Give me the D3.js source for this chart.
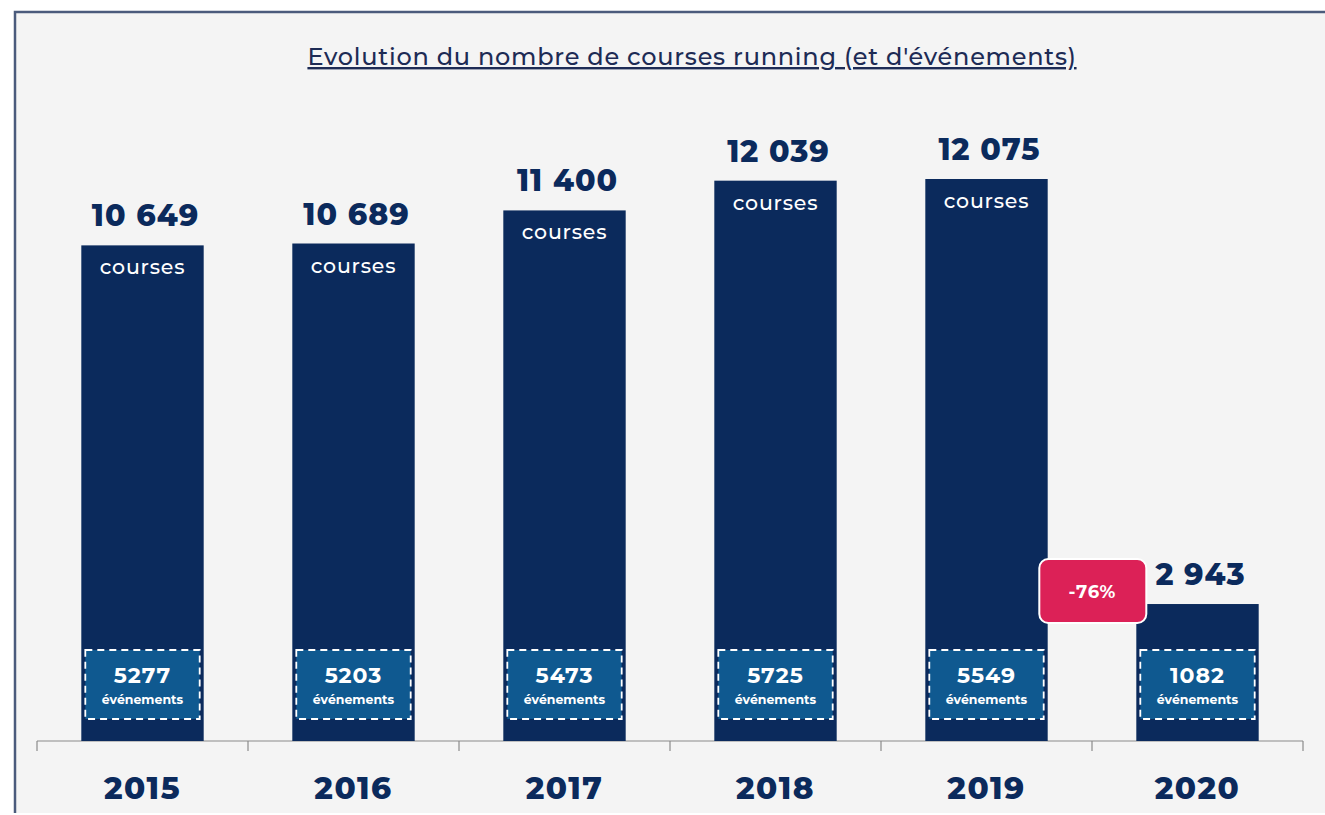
<!DOCTYPE html>
<html>
<head>
<meta charset="utf-8">
<script src="https://cdn.jsdelivr.net/npm/d3@7"></script>
<style>
  body { margin: 0; background: #ffffff; }
  svg { display: block; }
</style>
</head>
<body>
<svg width="1325" height="815"></svg>
<script>
  const annees = ["2015", "2016", "2017", "2018", "2019", "2020"];
  const courses = [10649, 10689, 11400, 12039, 12075, 2943];
  const evenements = [5277, 5203, 5473, 5725, 5549, 1082];
  const variation = "-76%";

  const svg = d3.select("svg");
  const navy = "#0b2a5c";
  const fmt = d3.formatLocale({ decimal: ",", thousands: " ", grouping: [3], currency: ["", ""] }).format(",d");
  const font = "Montserrat, 'Open Sans', Lato, sans-serif";

  // fond et cadre
  svg.append("rect").attr("x", 14).attr("y", 11).attr("width", 1325).attr("height", 802)
    .attr("fill", "#f4f4f4");
  svg.append("path").attr("d", "M15,813 V12 H1325")
    .attr("fill", "none").attr("stroke", "#4b5b7c").attr("stroke-width", 2.5);

  // titre
  svg.append("text").attr("x", 692).attr("y", 65).attr("text-anchor", "middle")
    .attr("font-family", font).attr("font-size", 24).attr("font-weight", 500)
    .attr("letter-spacing", 0.75)
    .attr("fill", "#1d2b55").attr("text-decoration", "underline")
    .text("Evolution du nombre de courses running (et d'événements)");

  const x = d3.scaleBand().domain(annees).range([37, 1303]).paddingInner(0.42).paddingOuter(0.21);
  const y = d3.scaleLinear().domain([0, 12075]).range([741, 179]);
  const band = (1303 - 37) / annees.length;

  // axe
  const axis = svg.append("g").attr("transform", "translate(0,741)");
  axis.append("line").attr("x1", 37).attr("x2", 1303).attr("stroke", "#8a8a8a").attr("stroke-width", 1.2);
  axis.selectAll(".tick").data(d3.range(annees.length + 1)).join("line")
    .attr("x1", i => 37 + i * band).attr("x2", i => 37 + i * band)
    .attr("y1", 0).attr("y2", 10).attr("stroke", "#8a8a8a").attr("stroke-width", 1.2);
  axis.selectAll(".annee").data(annees).join("text")
    .attr("x", d => x(d) + x.bandwidth() / 2).attr("y", 58)
    .attr("text-anchor", "middle").attr("font-family", font).attr("font-size", 31)
    .attr("letter-spacing", 1.5)
    .attr("font-weight", 800).attr("fill", navy).text(d => d);

  const data = annees.map((a, i) => ({ annee: a, courses: courses[i], evenements: evenements[i] }));
  const g = svg.selectAll(".bar").data(data).join("g")
    .attr("transform", d => `translate(${x(d.annee)},0)`);

  g.append("rect").attr("y", d => y(d.courses)).attr("width", x.bandwidth())
    .attr("height", d => y(0) - y(d.courses)).attr("fill", navy);

  g.append("text").attr("x", x.bandwidth() / 2 + 3).attr("y", d => y(d.courses) - 19)
    .attr("text-anchor", "middle").attr("font-family", font).attr("font-size", 30)
    .attr("letter-spacing", 1)
    .attr("font-weight", 800).attr("fill", navy).text(d => fmt(d.courses));

  g.filter(d => d.courses > 5000).append("text")
    .attr("x", x.bandwidth() / 2).attr("y", d => y(d.courses) + 29)
    .attr("text-anchor", "middle").attr("font-family", font).attr("font-size", 20.5)
    .attr("letter-spacing", 0.8)
    .attr("font-weight", 500).attr("fill", "#ffffff").text("courses");

  // encadré des événements
  g.append("rect").attr("x", 4).attr("y", 650).attr("width", x.bandwidth() - 8).attr("height", 69)
    .attr("fill", "#0f5990").attr("stroke", "#ffffff").attr("stroke-width", 1.8)
    .attr("stroke-dasharray", "7,5");
  g.append("text").attr("x", x.bandwidth() / 2).attr("y", 683)
    .attr("text-anchor", "middle").attr("font-family", font).attr("font-size", 22)
    .attr("letter-spacing", 1)
    .attr("font-weight", 700).attr("fill", "#ffffff").text(d => d.evenements);
  g.append("text").attr("x", x.bandwidth() / 2).attr("y", 704)
    .attr("text-anchor", "middle").attr("font-family", font).attr("font-size", 12.5)
    .attr("font-weight", 700).attr("fill", "#ffffff").text("événements");

  // badge de variation
  const last = data[data.length - 1];
  const bx = x(last.annee) - 97, by = y(last.courses) - 45;
  svg.append("rect").attr("x", bx).attr("y", by).attr("width", 107).attr("height", 64)
    .attr("rx", 9).attr("fill", "#dc2157").attr("stroke", "#ffffff").attr("stroke-width", 2);
  svg.append("text").attr("x", bx + 53).attr("y", by + 39).attr("text-anchor", "middle")
    .attr("font-family", font).attr("font-size", 18).attr("font-weight", 700)
    .attr("letter-spacing", 0.8)
    .attr("fill", "#ffffff").text(variation);
</script>
</body>
</html>
